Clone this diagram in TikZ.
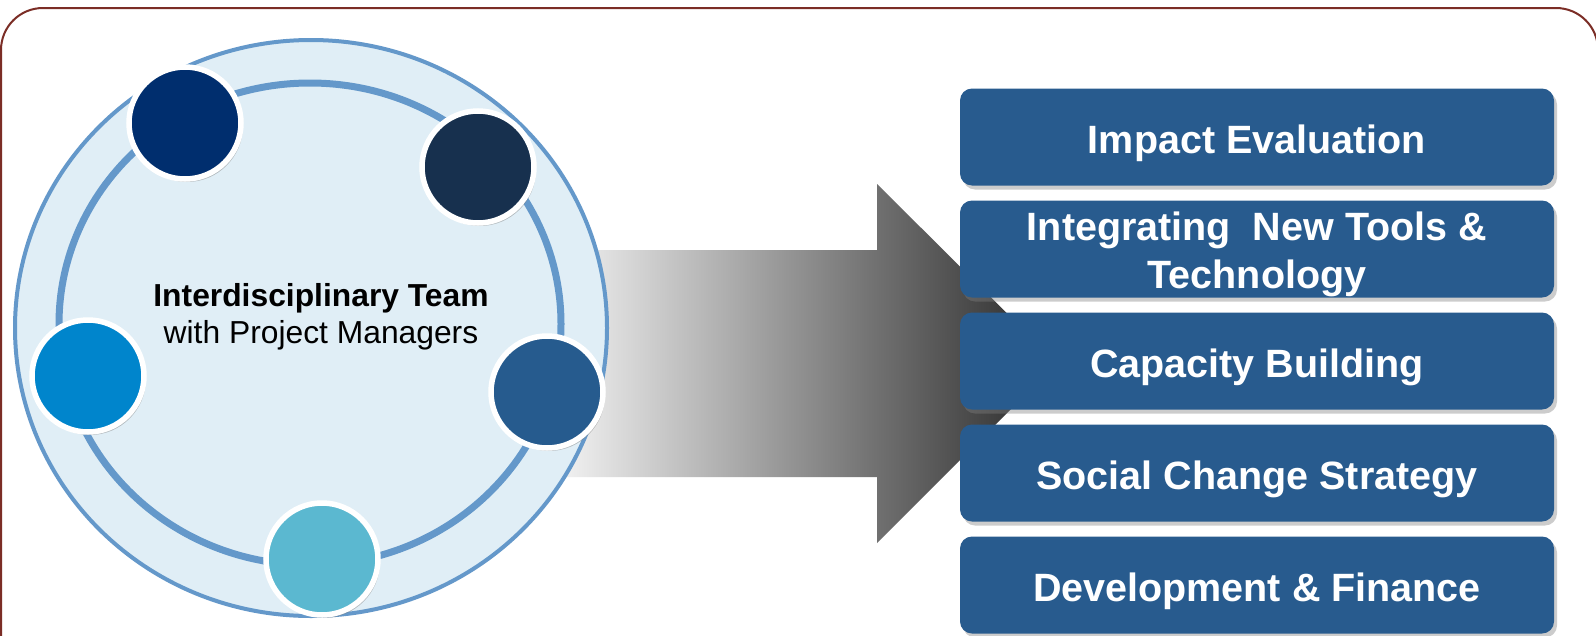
\documentclass[tikz,border=0pt]{standalone}
\usepackage{fontspec}
\setmainfont{Liberation Sans}
\usetikzlibrary{shadows}

\definecolor{frameRed}{HTML}{7B2D26}
\definecolor{ringFill}{HTML}{E0EEF6}
\definecolor{ringLine}{HTML}{6498CA}
\definecolor{taskBlue}{HTML}{285B8E}
\definecolor{memberA}{HTML}{002E6E}
\definecolor{memberB}{HTML}{17304E}
\definecolor{memberC}{HTML}{0085CC}
\definecolor{memberD}{HTML}{265B8E}
\definecolor{memberE}{HTML}{5BB8D0}

\begin{document}
\begin{tikzpicture}[x=1pt,y=-1pt,
	member/.style={circle,draw=white,line width=5.5pt,inner sep=0pt,minimum size=112pt,
		drop shadow={shadow xshift=2pt,shadow yshift=-3pt,opacity=0.45}},
	task/.style={rounded corners=12pt,fill=taskBlue,inner sep=0pt,minimum width=594pt,minimum height=97pt,
		text=white,align=center,font=\fontsize{39.5}{48}\selectfont\bfseries,text height=32pt,text depth=0pt,
		drop shadow={shadow xshift=3pt,shadow yshift=-4pt,opacity=0.4}}]
	\useasboundingbox (0,0) rectangle (1596,635);
	\fill[white] (0,0) rectangle (1596,635);
	\draw[frameRed,line width=2pt,rounded corners=42pt] (1,8) rectangle (1598,700);

	\shade[left color=black!5,right color=black!85]
		(560,250) -- (877,250) -- (877,184) -- (1057,363) -- (877,543) -- (877,477) -- (560,477) -- cycle;

	\begin{scope}
	\draw[ringLine,line width=4pt,fill=ringFill] (311,328) ellipse [x radius=296, y radius=288];
	\draw[ringLine,line width=7pt] (310,324) ellipse [x radius=251, y radius=241];

	\node[font=\fontsize{31.8}{36.5}\selectfont,align=center] at (321,317) (team)
		{\textbf{Interdisciplinary Team}\\with Project Managers};

	\newcommand\drawMember[4]{\node[member,fill=#3] at (#1,#2) (#4) {};}

	\drawMember{185}{123}{memberA}{m1}
	\drawMember{478}{167}{memberB}{m2}
	\drawMember{88}{376}{memberC}{m3}
	\drawMember{547}{392}{memberD}{m4}
	\drawMember{322}{559}{memberE}{m5}
	\end{scope}

	\begin{scope}
	\newcommand\drawTask[4][]{\node[task,#1] at (1257,#2) (#4) {#3};}

	\drawTask{137}{Impact Evaluation}{impact}
	\drawTask[text height=78pt]{249}{Integrating\ \ New Tools \&\\Technology}{tools}
	\drawTask{361}{Capacity Building}{capacity}
	\drawTask{473}{Social Change Strategy}{social}
	\drawTask{585}{Development \& Finance}{finance}
	\end{scope}
\end{tikzpicture}
\end{document}
